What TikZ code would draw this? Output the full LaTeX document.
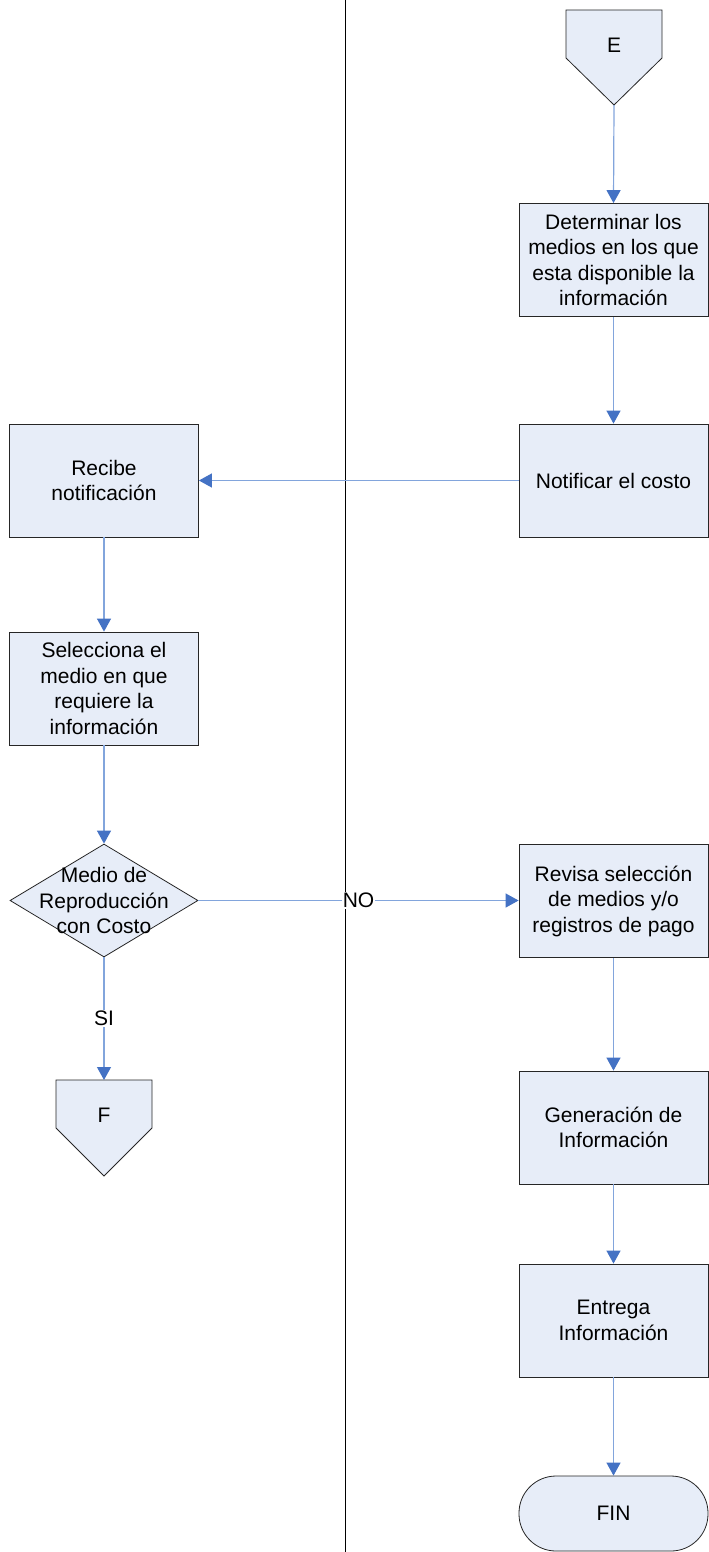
\documentclass[tikz,border=0pt]{standalone}
\usepackage{fontspec}
\setmainfont{Liberation Sans}
\usetikzlibrary{arrows.meta,shapes.geometric}
\definecolor{boxfill}{RGB}{231,237,248}
\definecolor{linkblue}{RGB}{130,165,220}
\definecolor{tipblue}{RGB}{68,114,196}
\begin{document}
\begin{tikzpicture}[x=1pt,y=-1pt,
  txt/.style={font=\fontsize{21}{25.5}\selectfont, align=center, inner sep=0pt},
  proc/.style={draw=black!85, fill=boxfill, line width=0.8pt, minimum width=189pt, minimum height=113pt, inner sep=2pt, txt},
  term/.style={draw=black!85, fill=boxfill, line width=0.8pt, minimum width=189pt, minimum height=75pt, rounded corners=37pt, txt},
  decis/.style={draw=black!85, fill=boxfill, line width=0.8pt, diamond, minimum width=188pt, minimum height=113pt, inner sep=0pt},
  offpage/.style={draw=black!85, fill=boxfill, line width=0.8pt},
  link/.style={draw=linkblue, line width=1.2pt, -{Triangle[length=13pt,width=14pt,color=tipblue]}},
  lbl/.style={txt, fill=white, inner sep=1pt},
  lane/.style={draw=black, line width=0.9pt}]
\useasboundingbox (0,0) rectangle (709,1552);
% lane separator
\coordinate (laneTop) at (345,0);
\coordinate (laneBot) at (345,1552);
\draw[lane] (laneTop) -- (laneBot);
% off-page connector E
\draw[offpage] (566,10) -- (662,10) -- (662,58) -- (614,105) -- (566,58) -- cycle;
\node[txt] (E) at (614,45) {E};
\coordinate (Etip) at (614,105);
% right lane
\node[proc] (det) at (613.5,260) {Determinar los\\medios en los que\\esta disponible la\\información};
\node[proc] (not) at (613.5,480.5) {Notificar el costo};
\node[proc] (rev) at (613.5,901) {Revisa selección\\de medios y/o\\registros de pago};
\node[proc] (gen) at (613.5,1127.5) {Generación de\\Información};
\node[proc] (ent) at (613.5,1320.5) {Entrega\\Información};
\node[term] (fin) at (613.5,1513.5) {FIN};
% left lane
\node[proc] (rec) at (104,480.5) {Recibe\\notificación};
\node[proc] (sel) at (104,688.5) {Selecciona el\\medio en que\\requiere la\\información};
\node[decis] (dec) at (104,900.5) {};
\node[txt] (dect) at (104,900.5) {Medio de\\Reproducción\\con Costo};
% off-page connector F
\draw[offpage] (56,1080) -- (152,1080) -- (152,1128) -- (104,1176) -- (56,1128) -- cycle;
\node[txt] (F) at (104,1115) {F};
\coordinate (Ftop) at (104,1080);
% connectors
\draw[link] (Etip) -- (det.north);
\draw[link] (det.south) -- (not.north);
\draw[link] (not.west) -- (rec.east);
\draw[link] (rec.south) -- (sel.north);
\draw[link] (sel.south) -- (dec.north);
\draw[link] (dec.east) -- node[lbl] {NO} (dec.east -| rev.west);
\draw[link] (dec.south) -- node[lbl] {SI} (Ftop);
\draw[link] (rev.south) -- (gen.north);
\draw[link] (gen.south) -- (ent.north);
\draw[link] (ent.south) -- (fin.north);
\end{tikzpicture}
\end{document}
